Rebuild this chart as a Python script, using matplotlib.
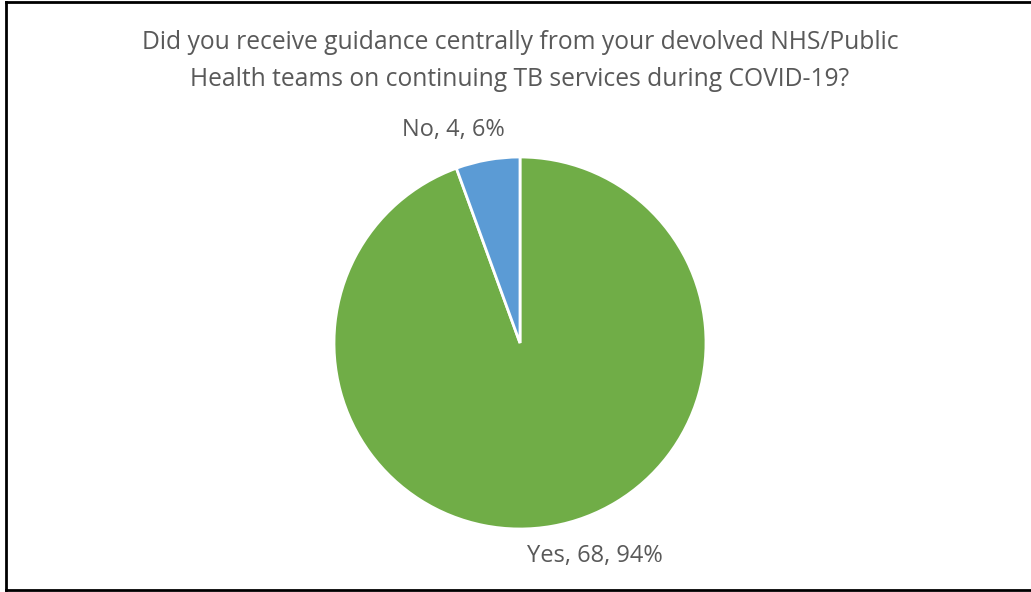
import matplotlib
matplotlib.use("Agg")
import matplotlib.pyplot as plt
from matplotlib.lines import Line2D

labels = ["Yes", "No"]
counts = [68, 4]
colors = ["#70AD47", "#5B9BD5"]
title = ("Did you receive guidance centrally from your devolved NHS/Public\n"
         "Health teams on continuing TB services during COVID-19?")

plt.rcParams["font.family"] = ["Open Sans", "DejaVu Sans"]
text_color = "#595959"

W, H = 1031, 592
fig = plt.figure(figsize=(W / 100, H / 100), dpi=100)

# pie axes: centre (520, 343) px, radius 186 px
cx, cy, r = 520, 343, 186
ax = fig.add_axes([(cx - r) / W, (H - cy - r) / H, 2 * r / W, 2 * r / H])
wedges, _ = ax.pie(counts, colors=colors, startangle=90, counterclock=False,
                   radius=1, wedgeprops=dict(edgecolor="white", linewidth=2))
ax.set_xlim(-1, 1)
ax.set_ylim(-1, 1)
ax.axis("off")

total = sum(counts)
label_pos = {"Yes": (0.40, -1.145), "No": (-0.36, 1.145)}
for lab, c in zip(labels, counts):
    pct = round(100 * c / total)
    x, y = label_pos[lab]
    ax.text(x, y, f"{lab}, {c}, {pct}%", ha="center", va="center",
            fontsize=17, color=text_color, clip_on=False)

fig.text(cx / W, 1 - 61 / H, title, ha="center", va="center",
         fontsize=17.7, color=text_color, linespacing=1.58)

# frame around the chart (left, top, bottom)
lw = 2
fig.add_artist(Line2D([6 / W, 6 / W], [1 - 2 / H, 1 - 590 / H], color="black", lw=lw))
fig.add_artist(Line2D([6 / W, 1], [1 - 2 / H, 1 - 2 / H], color="black", lw=lw))
fig.add_artist(Line2D([6 / W, 1], [1 - 590 / H, 1 - 590 / H], color="black", lw=lw))

fig.savefig("out.png", dpi=100)
